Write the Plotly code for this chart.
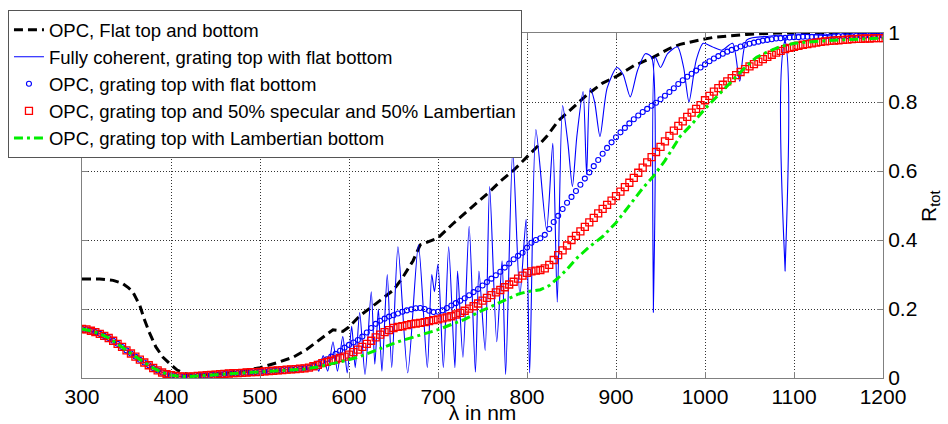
import plotly.graph_objects as go

# wavelength grid used by the two marker series (5 nm steps)
wl = list(range(300, 1205, 5))

# OPC, grating top and 50% specular and 50% Lambertian (red squares)
r_mixed = [
    0.142, 0.141, 0.137, 0.133, 0.128, 0.122, 0.116, 0.108, 0.099, 0.090,
    0.080, 0.071, 0.062, 0.053, 0.045, 0.037, 0.029, 0.022, 0.016, 0.011,
    0.008, 0.006, 0.005, 0.004, 0.004, 0.005, 0.006, 0.007, 0.008, 0.009,
    0.010, 0.011, 0.012, 0.013, 0.014, 0.014, 0.015, 0.016, 0.017, 0.017,
    0.018, 0.019, 0.020, 0.021, 0.022, 0.023, 0.024, 0.025, 0.026, 0.027,
    0.028, 0.030, 0.034, 0.038, 0.043, 0.047, 0.050, 0.054, 0.058, 0.062,
    0.068, 0.075, 0.082, 0.090, 0.099, 0.108, 0.118, 0.126, 0.133, 0.139,
    0.145, 0.148, 0.150, 0.153, 0.156, 0.158, 0.160, 0.162, 0.165, 0.168,
    0.170, 0.173, 0.176, 0.179, 0.184, 0.189, 0.195, 0.201, 0.208, 0.216,
    0.224, 0.232, 0.240, 0.248, 0.255, 0.263, 0.271, 0.279, 0.288, 0.297,
    0.305, 0.309, 0.311, 0.313, 0.318, 0.328, 0.342, 0.356, 0.370, 0.384,
    0.400, 0.412, 0.425, 0.438, 0.451, 0.464, 0.477, 0.490, 0.502, 0.514,
    0.527, 0.540, 0.553, 0.566, 0.580, 0.595, 0.610, 0.625, 0.640, 0.655,
    0.670, 0.686, 0.702, 0.717, 0.731, 0.744, 0.757, 0.769, 0.780, 0.791,
    0.805, 0.818, 0.830, 0.840, 0.850, 0.860, 0.869, 0.878, 0.887, 0.895,
    0.903, 0.910, 0.917, 0.924, 0.931, 0.937, 0.943, 0.948, 0.953, 0.957,
    0.960, 0.963, 0.966, 0.968, 0.970, 0.972, 0.974, 0.976, 0.977, 0.978,
    0.979, 0.980, 0.981, 0.982, 0.983, 0.983, 0.984, 0.984, 0.985, 0.985,
    0.985,
]

# OPC, grating top with flat bottom (blue circles)
r_flat_bottom = [
    0.142, 0.141, 0.137, 0.133, 0.128, 0.122, 0.116, 0.108, 0.099, 0.090,
    0.080, 0.071, 0.062, 0.053, 0.045, 0.037, 0.029, 0.022, 0.016, 0.011,
    0.008, 0.006, 0.005, 0.004, 0.004, 0.005, 0.006, 0.007, 0.008, 0.009,
    0.010, 0.011, 0.012, 0.013, 0.014, 0.014, 0.015, 0.016, 0.017, 0.017,
    0.018, 0.019, 0.020, 0.021, 0.022, 0.023, 0.024, 0.025, 0.026, 0.027,
    0.028, 0.030, 0.036, 0.042, 0.048, 0.054, 0.062, 0.070, 0.079, 0.088,
    0.096, 0.103, 0.110, 0.120, 0.132, 0.145, 0.157, 0.166, 0.172, 0.178,
    0.182, 0.187, 0.192, 0.196, 0.199, 0.202, 0.203, 0.200, 0.195, 0.191,
    0.192, 0.196, 0.203, 0.210, 0.217, 0.224, 0.231, 0.240, 0.249, 0.258,
    0.268, 0.278, 0.288, 0.298, 0.308, 0.320, 0.332, 0.344, 0.354, 0.363,
    0.378, 0.392, 0.400, 0.405, 0.415, 0.432, 0.452, 0.470, 0.490, 0.508,
    0.525, 0.542, 0.560, 0.578, 0.596, 0.614, 0.632, 0.650, 0.667, 0.683,
    0.698, 0.712, 0.725, 0.738, 0.750, 0.761, 0.771, 0.780, 0.789, 0.798,
    0.808, 0.818, 0.829, 0.840, 0.852, 0.863, 0.873, 0.882, 0.891, 0.900,
    0.909, 0.918, 0.926, 0.933, 0.940, 0.946, 0.951, 0.956, 0.961, 0.965,
    0.969, 0.972, 0.975, 0.978, 0.980, 0.982, 0.984, 0.985, 0.986, 0.987,
    0.988, 0.988, 0.989, 0.989, 0.989, 0.990, 0.990, 0.990, 0.990, 0.991,
    0.991, 0.991, 0.991, 0.991, 0.992, 0.992, 0.992, 0.992, 0.992, 0.992,
    0.992,
]

# OPC, Flat top and bottom (black dashed)
flat_nm = [300, 320, 335, 345, 352, 357, 361, 365, 370, 376, 383, 391, 400, 407,
           415, 425, 445, 463, 480, 500, 520, 537, 552, 567, 575, 582, 588, 593,
           600, 612, 630, 650, 660, 672, 680, 690, 700, 718, 736, 745, 758, 770,
           784, 792, 800, 815, 822, 835, 850, 867, 885, 901, 920, 942, 960, 972,
           994, 1009, 1047, 1080, 1200]
flat_r = [0.287, 0.287, 0.283, 0.275, 0.262, 0.25, 0.23, 0.21, 0.17, 0.13, 0.09,
          0.06, 0.038, 0.023, 0.013, 0.008, 0.010, 0.014, 0.020, 0.030, 0.045,
          0.060, 0.082, 0.11, 0.125, 0.14, 0.138, 0.135, 0.148, 0.18, 0.215,
          0.255, 0.29, 0.34, 0.386, 0.396, 0.406, 0.45, 0.49, 0.51, 0.54, 0.57,
          0.60, 0.62, 0.64, 0.68, 0.70, 0.745, 0.78, 0.82, 0.855, 0.875, 0.905,
          0.93, 0.955, 0.967, 0.98, 0.987, 0.996, 1.0, 1.0]

# Fully coherent, grating top with flat bottom (thin blue line)
coh_nm = [300, 320, 340, 360, 380, 400, 420, 450, 480, 500, 520, 540, 550, 556,
          562, 566, 571, 576, 582, 587, 593, 598, 603, 607, 612, 618, 625, 629,
          633, 637, 643, 648, 655, 666, 678, 688, 693, 696, 700, 706, 712, 719,
          722, 728, 735, 742, 746, 753, 758, 766, 772, 776, 784, 792, 799, 803,
          810, 822, 829, 834, 840, 846, 851, 856, 863, 867, 871, 876, 882, 890,
          901, 908, 916, 924, 933, 940, 942, 944, 950, 958, 969, 976, 982, 990,
          998, 1008, 1019, 1031, 1039, 1047, 1070, 1088, 1090, 1092, 1120,
          1150, 1200]
coh_r = [0.142, 0.128, 0.099, 0.062, 0.029, 0.008, 0.004, 0.010, 0.015, 0.018,
         0.022, 0.026, 0.028, 0.03, 0.045, 0.02, 0.065, 0.02, 0.105, 0.02,
         0.12, 0.015, 0.15, 0.03, 0.19, 0.01, 0.25, 0.04, 0.20, 0.02, 0.30,
         0.03, 0.38, 0.015, 0.386, 0.03, 0.30, 0.25, 0.33, 0.03, 0.38, 0.03,
         0.31, 0.06, 0.44, 0.017, 0.31, 0.08, 0.555, 0.105, 0.34, 0.01, 0.66,
         0.24, 0.46, 0.015, 0.72, 0.43, 0.68, 0.22, 0.79, 0.68, 0.555, 0.70,
         0.83, 0.59, 0.84, 0.80, 0.70, 0.84, 0.90, 0.88, 0.815, 0.89, 0.94,
         0.93, 0.19, 0.93, 0.90, 0.94, 0.96, 0.90, 0.80, 0.92, 0.97, 0.96,
         0.95, 0.97, 0.86, 0.98, 0.99, 0.99, 0.31, 0.99, 0.995, 0.99, 0.995]

# OPC, grating top with Lambertian bottom (green dash-dot)
lamb_nm = [300, 310, 320, 330, 340, 350, 360, 370, 380, 390, 400, 410, 420, 430,
           450, 475, 500, 525, 550, 565, 580, 595, 610, 625, 640, 655, 670, 685,
           700, 715, 730, 745, 760, 775, 790, 800, 815, 825, 835, 845, 855, 870,
           885, 900, 915, 930, 942, 955, 972, 985, 1000, 1015, 1028, 1045, 1058,
           1070, 1084, 1100, 1121, 1150, 1200]
lamb_r = [0.142, 0.137, 0.128, 0.116, 0.099, 0.080, 0.062, 0.045, 0.029, 0.016,
          0.008, 0.005, 0.004, 0.006, 0.010, 0.014, 0.018, 0.022, 0.026, 0.032,
          0.040, 0.050, 0.060, 0.074, 0.090, 0.105, 0.117, 0.127, 0.140, 0.155,
          0.170, 0.190, 0.208, 0.226, 0.243, 0.250, 0.256, 0.268, 0.290, 0.315,
          0.345, 0.38, 0.41, 0.45, 0.50, 0.55, 0.585, 0.63, 0.70, 0.735, 0.78,
          0.82, 0.855, 0.90, 0.93, 0.945, 0.96, 0.97, 0.975, 0.98, 0.985]

font_name = "Liberation Sans, Arial, sans-serif"

fig = go.Figure()
fig.add_trace(go.Scatter(x=flat_nm, y=flat_r, mode="lines", name="OPC, Flat top and bottom",
                         line=dict(color="black", width=3, dash="9px,5px")))
fig.add_trace(go.Scatter(x=coh_nm, y=coh_r, mode="lines",
                         name="Fully coherent, grating top with flat bottom",
                         line=dict(color="#0000ff", width=1.1, shape="spline", smoothing=0.7)))
fig.add_trace(go.Scatter(x=wl, y=r_flat_bottom, mode="markers",
                         name="OPC, grating top with flat bottom",
                         marker=dict(symbol="circle-open", size=5, color="#0000ff",
                                     line=dict(width=1.1))))
fig.add_trace(go.Scatter(x=wl, y=r_mixed, mode="markers",
                         name="OPC, grating top and 50% specular and 50% Lambertian",
                         marker=dict(symbol="square-open", size=7, color="#ff0000",
                                     line=dict(width=1.3))))
fig.add_trace(go.Scatter(x=lamb_nm, y=lamb_r, mode="lines",
                         name="OPC, grating top with Lambertian bottom",
                         line=dict(color="#00ee00", width=3, dash="9px,4px,3px,4px")))

axis_common = dict(showline=True, linecolor="#808080", linewidth=1, mirror="ticks",
                   ticks="inside", ticklen=6, tickcolor="#808080", automargin=False,
                   showgrid=True, gridcolor="#333333", gridwidth=1, griddash="1px,2px",
                   zeroline=False, tickfont=dict(size=21, color="black", family=font_name))

fig.update_xaxes(range=[300, 1200], dtick=100, title=dict(text="λ in nm", standoff=0,
                 font=dict(size=21, color="black", family=font_name)), **axis_common)
fig.update_yaxes(range=[0, 1], dtick=0.2, side="right", **axis_common)

# y-axis title placed by hand so the right margin stays as in the reference
fig.add_annotation(text="R<sub>tot</sub>", xref="paper", yref="paper", x=1.058, y=0.5,
                   showarrow=False, textangle=-90, xanchor="center", yanchor="middle",
                   font=dict(size=21, color="black", family=font_name))

fig.update_layout(
    width=948, height=424,
    margin=dict(l=82, r=65, t=33, b=46, autoexpand=False),
    plot_bgcolor="white", paper_bgcolor="white",
    font=dict(family=font_name, color="black"),
    legend=dict(xref="container", yref="container", x=0.0084, y=0.976,
                xanchor="left", yanchor="top",
                bgcolor="white", bordercolor="#555555", borderwidth=1,
                font=dict(size=18.5, color="black", family=font_name),
                tracegroupgap=0, itemwidth=30),
)

# drop the page's default body margin so the figure sits at the window's corner
fig.write_html("out.html", config={"displayModeBar": False},
               post_script="document.body.style.margin='0';")
